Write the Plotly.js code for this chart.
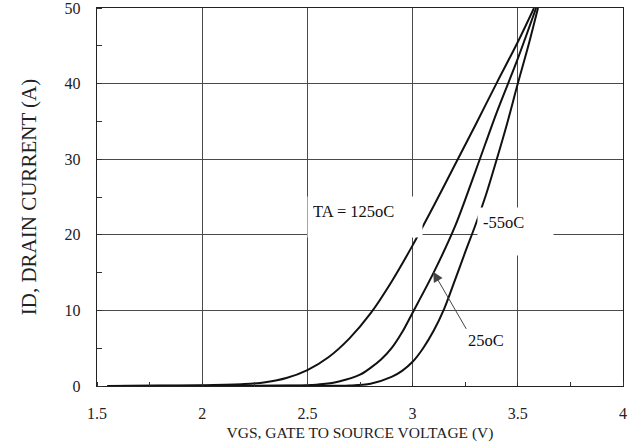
<!DOCTYPE html>
<html>
<head>
<meta charset="utf-8">
<script src="https://cdn.plot.ly/plotly-3.0.1.min.js"></script>
<style>html,body{margin:0;padding:0;background:#fff;}#chart{width:632px;height:448px;}</style>
</head>
<body>
<div id="chart"></div>
<script>
// Curve data
var vgs125 = [1.55, 1.8, 2.0, 2.2, 2.3, 2.4, 2.5, 2.6, 2.7, 2.8, 2.9, 3.0, 3.1, 3.2, 3.3, 3.4, 3.5, 3.577];
var id125  = [0, 0.05, 0.1, 0.25, 0.5, 1.05, 2.1, 3.8, 6.3, 9.6, 13.8, 18.6, 23.8, 29.2, 34.6, 40.1, 45.5, 50];

var vgs25 = [1.55, 2.2, 2.4, 2.5, 2.575, 2.65, 2.75, 2.8, 2.85, 2.9, 2.95, 3.0, 3.1, 3.2, 3.3, 3.4, 3.5, 3.587];
var id25  = [0, 0.02, 0.06, 0.1, 0.25, 0.6, 1.5, 2.4, 3.5, 5.0, 7.1, 9.7, 15.0, 21.0, 28.5, 36.2, 43.3, 50];

var vgsM55 = [1.55, 2.5, 2.7, 2.8, 2.9, 2.95, 3.0, 3.05, 3.1, 3.15, 3.2, 3.25, 3.3, 3.35, 3.4, 3.45, 3.5, 3.55, 3.596];
var idM55  = [0, 0.02, 0.06, 0.3, 1.2, 2.0, 3.2, 5.0, 7.3, 10.2, 13.9, 17.7, 21.4, 25.4, 30.0, 34.8, 40.0, 45.0, 50];

var xTicks = [1.5, 2, 2.5, 3, 3.5, 4];
var xTickText = ['1.5', '2', '2.5', '3', '3.5', '4'];
var yTicks = [0, 10, 20, 30, 40, 50];
var yTickText = ['0', '10', '20', '30', '40', '50'];

var FONT = 'Liberation Serif, Times New Roman, serif';
var lineStyle = {color: '#111', width: 2, shape: 'spline', smoothing: 0.9};

var traces = [
  {x: vgs125, y: id125, mode: 'lines', line: lineStyle, name: 'TA = 125oC', hoverinfo: 'skip'},
  {x: vgs25, y: id25, mode: 'lines', line: lineStyle, name: '25oC', hoverinfo: 'skip'},
  {x: vgsM55, y: idM55, mode: 'lines', line: lineStyle, name: '-55oC', hoverinfo: 'skip'}
];

var layout = {
  width: 632, height: 448,
  margin: {l: 97, r: 8.5, t: 7.5, b: 62, pad: 0},
  paper_bgcolor: '#fff', plot_bgcolor: '#fff',
  showlegend: false,
  font: {family: FONT, color: '#222', size: 16},
  xaxis: {
    range: [1.5, 4], tickmode: 'array', tickvals: xTicks, ticktext: xTickText,
    showgrid: true, gridcolor: '#4a4a4a', gridwidth: 1,
    showline: true, linecolor: '#222', linewidth: 1.3, mirror: true,
    ticks: '', ticklabelstandoff: 12, zeroline: false, ticklabeloverflow: 'allow',
    tickfont: {family: FONT, size: 16, color: '#222'},
    minor: {dtick: 0.25, tick0: 1.5, ticks: 'inside', ticklen: 4, tickcolor: '#333', showgrid: false},
    title: {text: 'VGS, GATE TO SOURCE VOLTAGE (V)', font: {family: FONT, size: 15.5, color: '#222'}, standoff: 6},
    automargin: false, fixedrange: true
  },
  yaxis: {
    range: [0, 50], tickmode: 'array', tickvals: yTicks, ticktext: yTickText,
    showgrid: true, gridcolor: '#4a4a4a', gridwidth: 1,
    showline: true, linecolor: '#222', linewidth: 1.3, mirror: true,
    ticks: '', ticklabelstandoff: 12, zeroline: false, ticklabeloverflow: 'allow',
    tickfont: {family: FONT, size: 16, color: '#222'},
    minor: {dtick: 5, tick0: 0, ticks: 'inside', ticklen: 5, tickcolor: '#333', showgrid: false},
    title: {text: 'ID, DRAIN CURRENT (A)', font: {family: FONT, size: 21, color: '#222'}, standoff: 22},
    automargin: false, fixedrange: true
  },
  annotations: [
    {x: 2.773, y: 22.33, xref: 'x', yref: 'y', text: 'TA = 125oC', showarrow: false,
     width: 104, height: 30, borderpad: 5, bgcolor: '#fff', align: 'left', valign: 'top',
     xanchor: 'center', yanchor: 'middle', font: {family: FONT, size: 16.5, color: '#111'}},
    {x: 3.488, y: 20.41, xref: 'x', yref: 'y', text: '-55oC', showarrow: false,
     width: 65, height: 37, borderpad: 5, bgcolor: '#fff', align: 'left', valign: 'top',
     xanchor: 'center', yanchor: 'middle', font: {family: FONT, size: 16.5, color: '#111'}},
    {x: 3.098, y: 15.1, xref: 'x', yref: 'y', text: '25oC', showarrow: true,
     ax: 33, ay: 57, xanchor: 'left', yanchor: 'top', borderpad: 1,
     arrowhead: 2, arrowsize: 2, arrowwidth: 1, arrowcolor: '#444',
     font: {family: FONT, size: 16.5, color: '#111'}}
  ]
};

Plotly.newPlot('chart', traces, layout, {staticPlot: true, displayModeBar: false});
</script>
</body>
</html>
